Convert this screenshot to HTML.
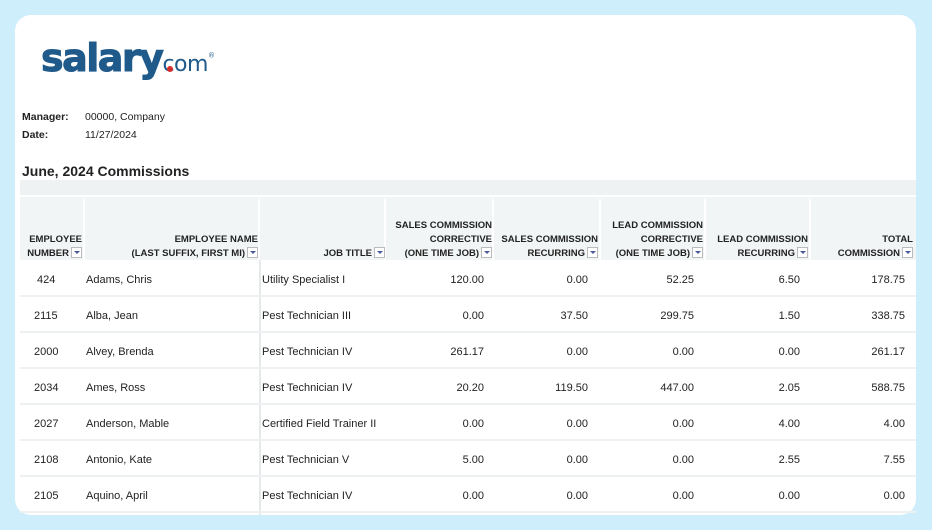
<!DOCTYPE html>
<html><head><meta charset="utf-8"><style>
*{margin:0;padding:0;box-sizing:border-box}
body{width:932px;height:530px;background:#cdeefa;position:relative;overflow:hidden;font-family:"Liberation Sans",sans-serif;color:#222}
.card{position:absolute;left:15px;top:15px;width:901px;height:500px;background:#fff;border-radius:16px;overflow:hidden}
.a{position:absolute;white-space:nowrap}
.logo{left:41px;top:36px;font-size:38px;font-weight:bold;color:#1f5a8a;letter-spacing:-1.5px;font-family:"DejaVu Sans",sans-serif;-webkit-text-stroke:1px #1f5a8a}
.small{font-size:10.5px}
.hdr{position:absolute;left:20px;top:180px;width:896px;height:80px;background:#f2f5f6}
.hdr2{position:absolute;left:20px;top:180px;width:896px;height:17px;background:#eef2f3;border-bottom:2px solid #fff}
.vl{position:absolute;top:199px;height:61px;width:2px;background:#fff}
.h{position:absolute;font-size:9.5px;font-weight:bold;text-align:right;line-height:14px;color:#222;white-space:nowrap}
.dd{display:inline-block;width:11px;height:11px;border:1px solid #bbb;background:#fff;vertical-align:-2px;margin-left:2px;position:relative}
.dd:after{content:"";position:absolute;left:2px;top:3px;border-left:3px solid transparent;border-right:3px solid transparent;border-top:3px solid #4a5a9a}
.row{position:absolute;left:20px;width:896px;height:36px;border-bottom:2px solid #eef1f2}
.c{position:absolute;top:1px;line-height:36px;font-size:11px;white-space:nowrap}
.r{text-align:right}
</style></head><body>
<div class="card"></div>
<div class="a logo">salary<span style="font-size:22px;font-weight:normal;color:#1f5a8a;letter-spacing:-0.5px;-webkit-text-stroke:0;position:relative">com<span style="position:absolute;left:5px;top:14px;width:6px;height:6px;border-radius:50%;background:#d62b2b"></span></span><sup style="font-size:7px;font-weight:normal;-webkit-text-stroke:0">®</sup></div>
<div class="a small" style="left:22px;top:111px;font-weight:bold">Manager:</div>
<div class="a small" style="left:85px;top:111px">00000, Company</div>
<div class="a small" style="left:22px;top:129px;font-weight:bold">Date:</div>
<div class="a small" style="left:85px;top:129px">11/27/2024</div>
<div class="a" style="left:22px;top:163px;font-size:14px;font-weight:bold">June, 2024 Commissions</div>
<div class="hdr"></div><div class="hdr2"></div>
<div class="vl" style="left:83px"></div><div class="vl" style="left:258px"></div><div class="vl" style="left:384px"></div><div class="vl" style="left:492px"></div><div class="vl" style="left:599px"></div><div class="vl" style="left:704px"></div><div class="vl" style="left:809px"></div>
<div class="h" style="right:850px;top:233px">EMPLOYEE<br>NUMBER<span class="dd"></span></div>
<div class="h" style="right:674px;top:233px">EMPLOYEE NAME<br>(LAST SUFFIX, FIRST MI)<span class="dd"></span></div>
<div class="h" style="right:547px;top:247px">JOB TITLE<span class="dd"></span></div>
<div class="h" style="right:440px;top:219px">SALES COMMISSION<br>CORRECTIVE<br>(ONE TIME JOB)<span class="dd"></span></div>
<div class="h" style="right:334px;top:233px">SALES COMMISSION<br>RECURRING<span class="dd"></span></div>
<div class="h" style="right:229px;top:219px">LEAD COMMISSION<br>CORRECTIVE<br>(ONE TIME JOB)<span class="dd"></span></div>
<div class="h" style="right:124px;top:233px">LEAD COMMISSION<br>RECURRING<span class="dd"></span></div>
<div class="h" style="right:19px;top:233px">TOTAL<br>COMMISSION<span class="dd"></span></div>
<div style="position:absolute;left:259px;top:260px;width:2px;height:260px;background:#e6e9ea"></div>
<div class="row" style="top:261px"><div class="c" style="left:17px">424</div><div class="c" style="left:66px">Adams, Chris</div><div class="c" style="left:242px">Utility Specialist I</div><div class="c r" style="right:432px">120.00</div><div class="c r" style="right:328px">0.00</div><div class="c r" style="right:222px">52.25</div><div class="c r" style="right:116px">6.50</div><div class="c r" style="right:11px">178.75</div></div>
<div class="row" style="top:297px"><div class="c" style="left:14px">2115</div><div class="c" style="left:66px">Alba, Jean</div><div class="c" style="left:242px">Pest Technician III</div><div class="c r" style="right:432px">0.00</div><div class="c r" style="right:328px">37.50</div><div class="c r" style="right:222px">299.75</div><div class="c r" style="right:116px">1.50</div><div class="c r" style="right:11px">338.75</div></div>
<div class="row" style="top:333px"><div class="c" style="left:14px">2000</div><div class="c" style="left:66px">Alvey, Brenda</div><div class="c" style="left:242px">Pest Technician IV</div><div class="c r" style="right:432px">261.17</div><div class="c r" style="right:328px">0.00</div><div class="c r" style="right:222px">0.00</div><div class="c r" style="right:116px">0.00</div><div class="c r" style="right:11px">261.17</div></div>
<div class="row" style="top:369px"><div class="c" style="left:14px">2034</div><div class="c" style="left:66px">Ames, Ross</div><div class="c" style="left:242px">Pest Technician IV</div><div class="c r" style="right:432px">20.20</div><div class="c r" style="right:328px">119.50</div><div class="c r" style="right:222px">447.00</div><div class="c r" style="right:116px">2.05</div><div class="c r" style="right:11px">588.75</div></div>
<div class="row" style="top:405px"><div class="c" style="left:14px">2027</div><div class="c" style="left:66px">Anderson, Mable</div><div class="c" style="left:242px">Certified Field Trainer II</div><div class="c r" style="right:432px">0.00</div><div class="c r" style="right:328px">0.00</div><div class="c r" style="right:222px">0.00</div><div class="c r" style="right:116px">4.00</div><div class="c r" style="right:11px">4.00</div></div>
<div class="row" style="top:441px"><div class="c" style="left:14px">2108</div><div class="c" style="left:66px">Antonio, Kate</div><div class="c" style="left:242px">Pest Technician V</div><div class="c r" style="right:432px">5.00</div><div class="c r" style="right:328px">0.00</div><div class="c r" style="right:222px">0.00</div><div class="c r" style="right:116px">2.55</div><div class="c r" style="right:11px">7.55</div></div>
<div class="row" style="top:477px"><div class="c" style="left:14px">2105</div><div class="c" style="left:66px">Aquino, April</div><div class="c" style="left:242px">Pest Technician IV</div><div class="c r" style="right:432px">0.00</div><div class="c r" style="right:328px">0.00</div><div class="c r" style="right:222px">0.00</div><div class="c r" style="right:116px">0.00</div><div class="c r" style="right:11px">0.00</div></div>
<div style="position:absolute;left:0;top:515px;width:932px;height:15px;background:#cdeefa"></div>
<div style="position:absolute;left:916px;top:0;width:16px;height:530px;background:#cdeefa"></div>
<div style="position:absolute;left:0;top:0;width:15px;height:530px;background:#cdeefa"></div>
</body></html>
